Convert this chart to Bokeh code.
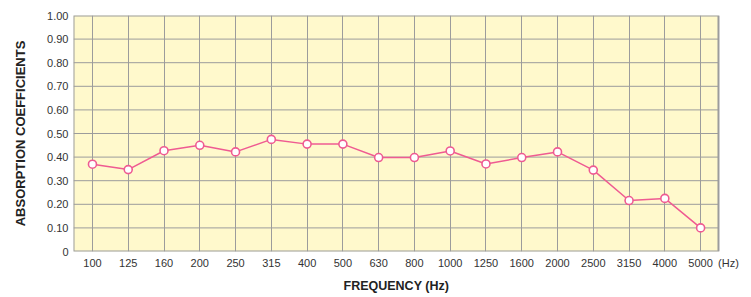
from bokeh.plotting import figure
from bokeh.models import FixedTicker, ColumnDataSource, BoxAnnotation, Title
from bokeh.embed import file_html
from bokeh.resources import INLINE

freq_labels = ["100", "125", "160", "200", "250", "315", "400", "500", "630", "800",
               "1000", "1250", "1600", "2000", "2500", "3150", "4000", "5000"]
absorption = [0.37, 0.347, 0.427, 0.45, 0.422, 0.475, 0.455, 0.455, 0.398, 0.398,
              0.426, 0.371, 0.398, 0.422, 0.345, 0.216, 0.225, 0.10]
y_ticks = [0.0, 0.1, 0.2, 0.3, 0.4, 0.5, 0.6, 0.7, 0.8, 0.9, 1.0]
y_tick_labels = ["0", "0.10", "0.20", "0.30", "0.40", "0.50", "0.60", "0.70", "0.80", "0.90", "1.00"]
x_title = "FREQUENCY (Hz)"
y_title = "ABSORPTION COEFFICIENTS"
unit_label = "(Hz)"

idx = list(range(len(freq_labels)))
src = ColumnDataSource(dict(x=idx, y=absorption))

FONT = "Liberation Sans"
GRID = "#9c9c9c"
PINK = "#EF5B92"
X0, X1 = -0.53, 17.5      # extent of the plotting box in category units
UNIT_X = 17.78            # position of the "(Hz)" unit label

p = figure(width=751, height=297, output_backend="svg", toolbar_location=None,
           x_range=(X0, 18.255), y_range=(0, 1.0),
           min_border_left=73, min_border_right=6, min_border_top=15, min_border_bottom=46)

p.background_fill_color = "white"
p.border_fill_color = "white"
p.outline_line_color = None

# yellow plotting box with grey border
p.add_layout(BoxAnnotation(left=X0, right=X1, bottom=y_ticks[0], top=y_ticks[-1],
                           fill_color="#FFF9CC", fill_alpha=1.0,
                           line_color=GRID, line_width=2, line_alpha=1.0, level="image"))

x_ticks = idx + [UNIT_X]
p.xaxis.ticker = FixedTicker(ticks=x_ticks)
overrides = {i: s for i, s in zip(idx, freq_labels)}
overrides[UNIT_X] = unit_label
p.xaxis.major_label_overrides = overrides
p.yaxis.ticker = FixedTicker(ticks=y_ticks)
p.yaxis.major_label_overrides = {t: s for t, s in zip(y_ticks, y_tick_labels)}

for ax in (p.xaxis[0], p.yaxis[0]):
    ax.major_tick_in = 0
    ax.major_tick_out = 0
    ax.minor_tick_in = 0
    ax.minor_tick_out = 0
    ax.axis_line_color = None
    ax.major_label_text_font = FONT
    ax.major_label_text_font_size = "11px"
    ax.major_label_text_color = "#333333"

p.xaxis.major_label_standoff = 5
p.yaxis.major_label_standoff = 5

p.yaxis.axis_label = y_title
p.yaxis.axis_label_text_font = FONT
p.yaxis.axis_label_text_font_size = "13px"
p.yaxis.axis_label_text_font_style = "bold"
p.yaxis.axis_label_text_color = "#222222"
p.yaxis.axis_label_standoff = 16

p.add_layout(Title(text=x_title, align="left", offset=270, text_font=FONT,
                   text_font_size="12.5px", text_font_style="bold",
                   text_color="#222222", standoff=10), "below")

p.xgrid.ticker = FixedTicker(ticks=idx)
p.xgrid.grid_line_color = GRID
p.xgrid.grid_line_width = 1
p.ygrid.visible = False
p.segment(x0=X0, x1=X1, y0=y_ticks[1:-1], y1=y_ticks[1:-1], line_color=GRID, line_width=1)

p.line("x", "y", source=src, line_color=PINK, line_width=1.5)
p.scatter("x", "y", source=src, size=8, marker="circle", fill_color="white",
          line_color=PINK, line_width=1.6)

open("out.html", "w").write(file_html(p, INLINE))
